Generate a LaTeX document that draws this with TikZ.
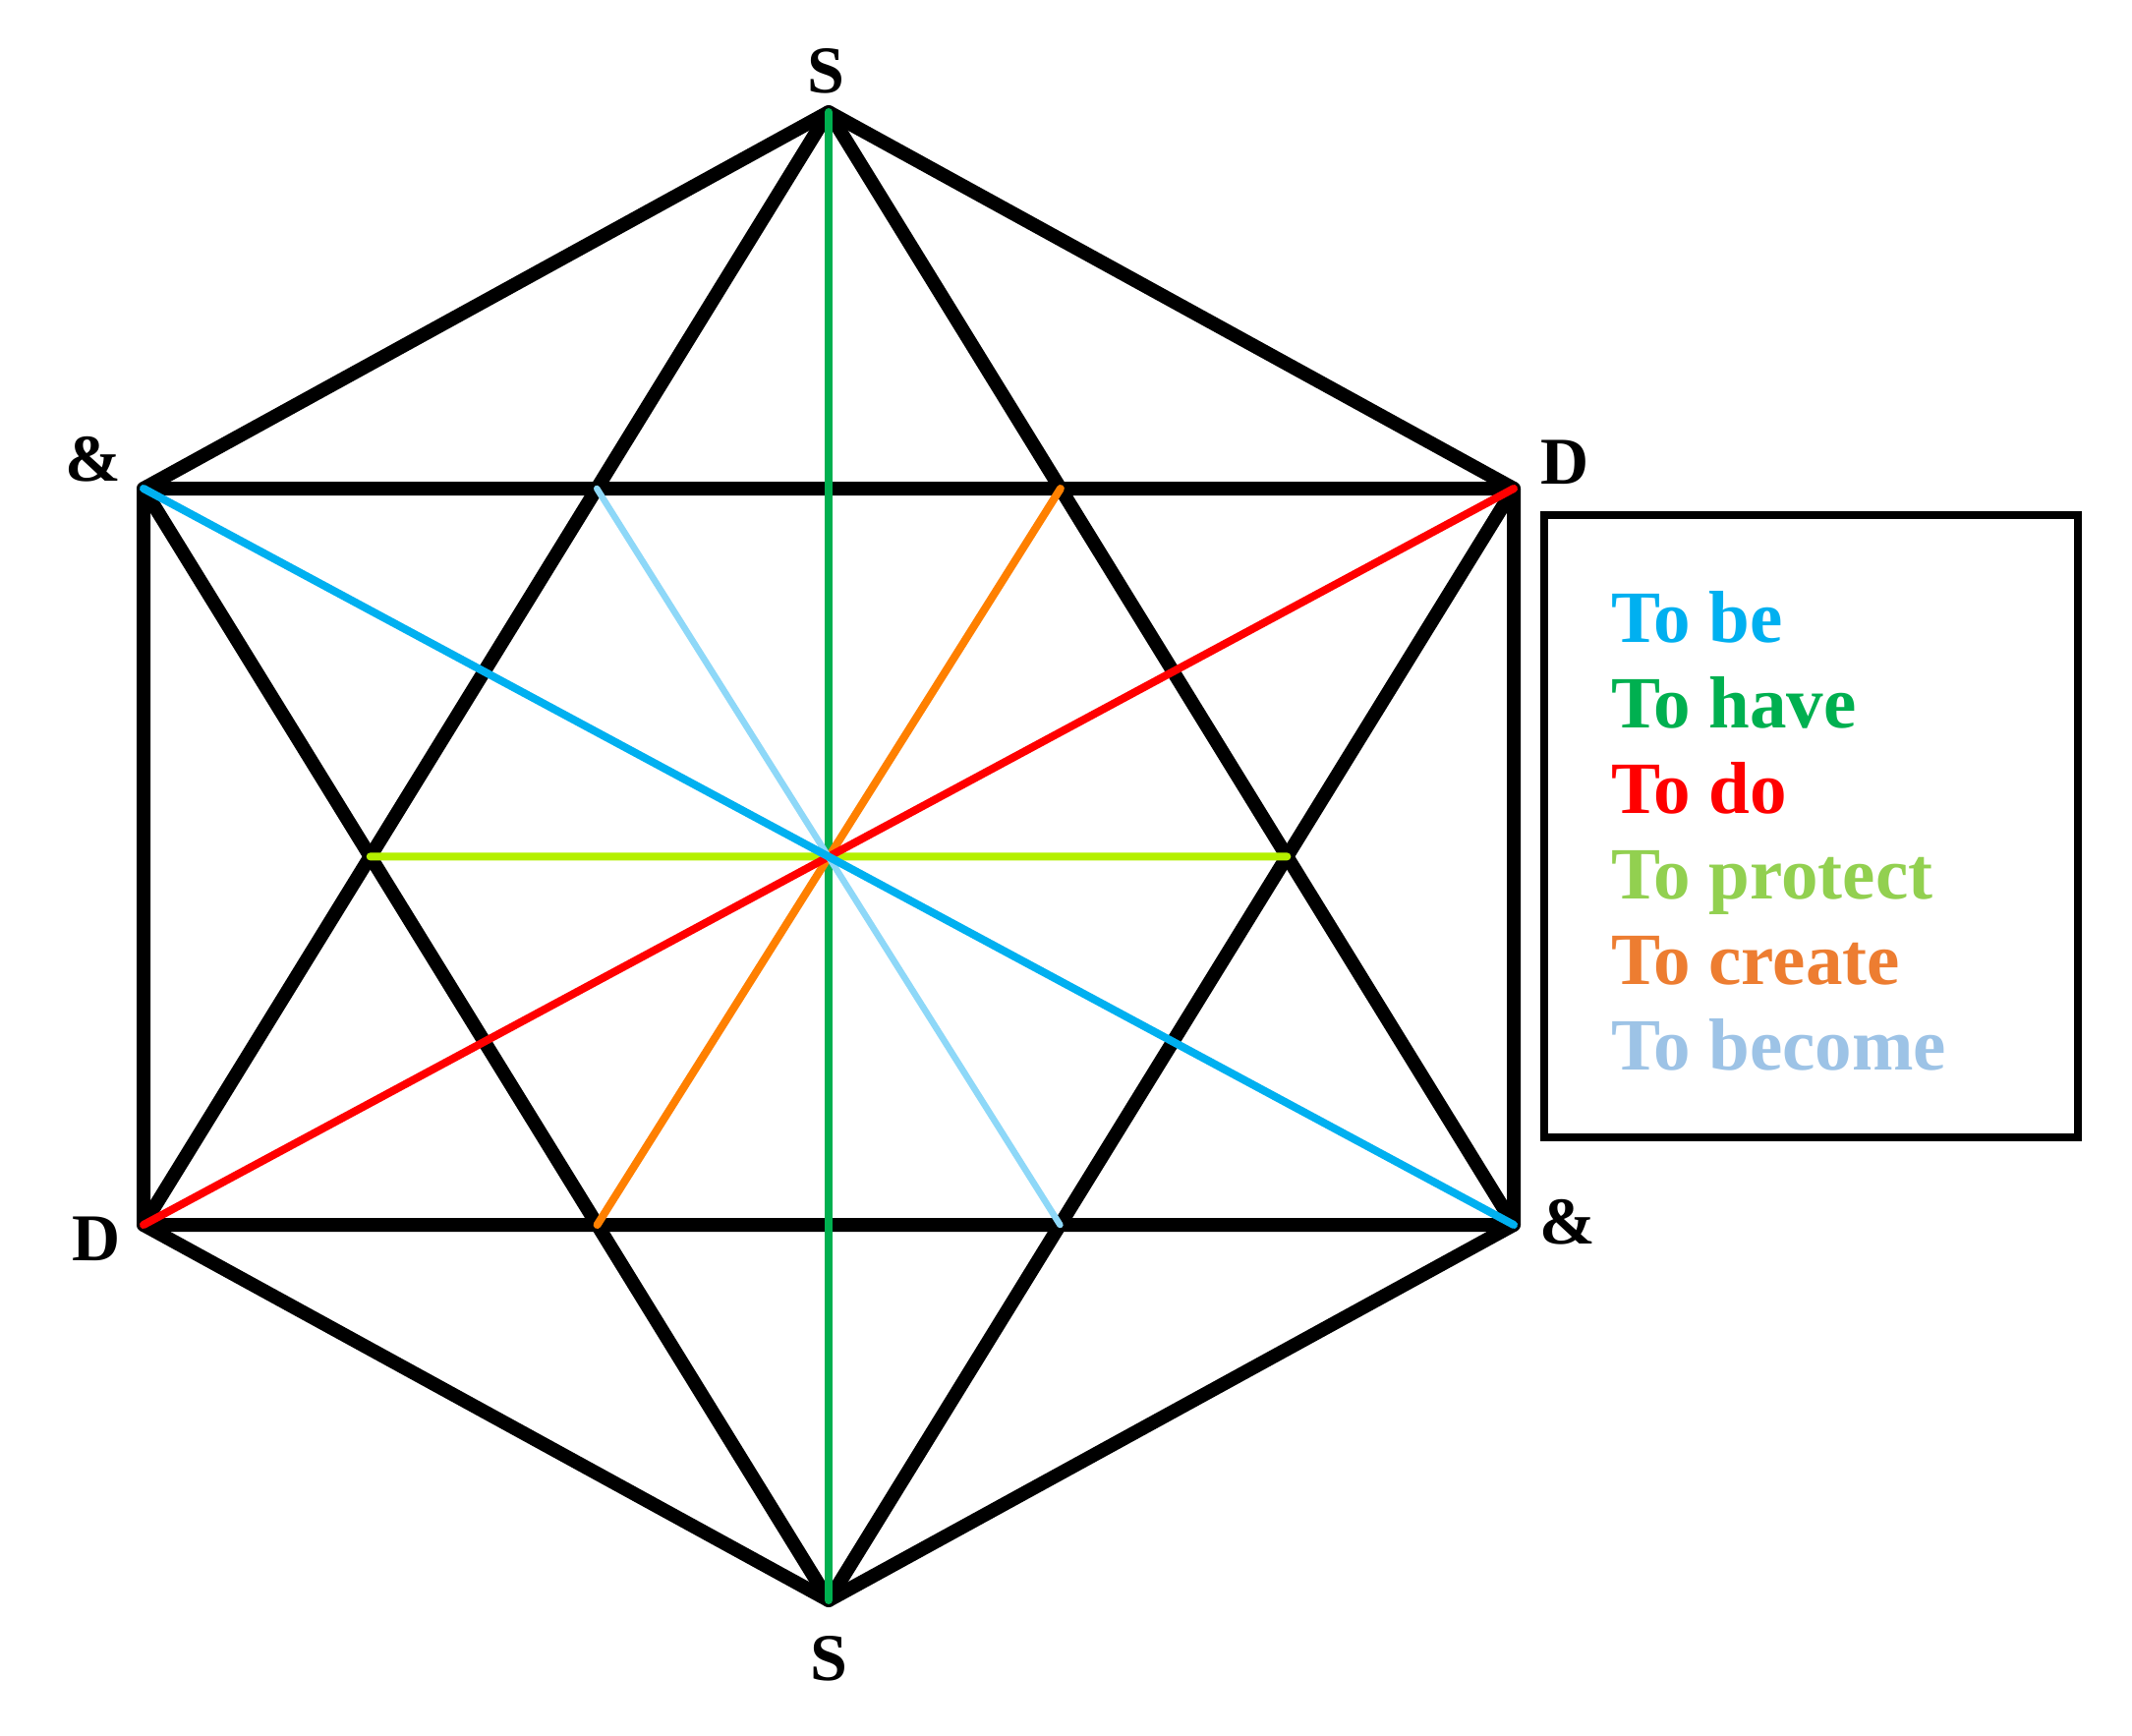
\documentclass[tikz,border=0pt]{standalone}
\usepackage{fontspec}
\setmainfont{Liberation Serif}
\definecolor{cBe}{HTML}{00B0F0}
\definecolor{cHave}{HTML}{00B050}
\definecolor{cDo}{HTML}{FF0000}
\definecolor{cProtLine}{HTML}{B4F000}
\definecolor{cProtText}{HTML}{92D050}
\definecolor{cCreLine}{HTML}{FF8000}
\definecolor{cCreText}{HTML}{ED7D31}
\definecolor{cBecLine}{HTML}{8ED8F8}
\definecolor{cBecText}{HTML}{9DC3E6}
\tikzset{
  blackline/.style={draw=black,line width=14pt,line join=round,line cap=round},
  colline/.style={line width=8pt,line cap=round},
  vlabel/.style={inner sep=0pt,font=\fontsize{68}{80}\selectfont\bfseries},
  legtext/.style={inner sep=0pt,anchor=base west,font=\fontsize{75}{87}\selectfont\bfseries},
  legbox/.style={draw=black,line width=8pt}
}
\begin{document}
\begin{tikzpicture}[x=1pt,y=-1pt]
\useasboundingbox[fill=white] (0,0) rectangle (2169,1766);
% vertices
\coordinate (T)  at (843,114);
\coordinate (B)  at (843,1628);
\coordinate (UL) at (146,497);
\coordinate (UR) at (1540,497);
\coordinate (LL) at (146,1246);
\coordinate (LR) at (1540,1246);
\coordinate (C)  at (843,871);
% star points and crossings
\coordinate (SL) at (intersection of T--LL and B--UL);
\coordinate (SR) at (intersection of T--LR and B--UR);
\coordinate (TopL) at (intersection of T--LL and UL--UR);
\coordinate (TopR) at (intersection of T--LR and UL--UR);
\coordinate (BotL) at (intersection of B--UL and LL--LR);
\coordinate (BotR) at (intersection of B--UR and LL--LR);
% hexagon
\draw[blackline] (T) -- (UR) -- (LR) -- (B) -- (LL) -- (UL) -- cycle;
% star of David
\draw[blackline] (T) -- (LR) -- (LL) -- cycle;
\draw[blackline] (B) -- (UL) -- (UR) -- cycle;
% coloured lines
\draw[colline,draw=cHave] (T) -- (B);
\draw[colline,draw=cProtLine] (SL) -- (SR);
\draw[colline,draw=cCreLine] (TopR) -- (BotL);
\draw[colline,draw=cDo] (LL) -- (UR);
\draw[colline,draw=cBecLine,line width=6.5pt] (TopL) -- (BotR);
\draw[colline,draw=cBe] (UL) -- (LR);
% vertex labels
\node[vlabel] (lT)  at (840,72)   {S};
\node[vlabel] (lB)  at (843,1687) {S};
\node[vlabel] (lUL) at (95,467)   {\&};
\node[vlabel] (lUR) at (1592,470) {D};
\node[vlabel] (lLL) at (98,1260)  {D};
\node[vlabel] (lLR) at (1595,1243){\&};
% legend
\draw[legbox] (1571,524) rectangle (2114,1157);
\node[legtext,text=cBe]      (k1) at (1639,653)  {To be};
\node[legtext,text=cHave]    (k2) at (1639,740)  {To have};
\node[legtext,text=cDo]      (k3) at (1639,827)  {To do};
\node[legtext,text=cProtText](k4) at (1639,914)  {To protect};
\node[legtext,text=cCreText] (k5) at (1639,1001) {To create};
\node[legtext,text=cBecText] (k6) at (1639,1088) {To become};
\end{tikzpicture}
\end{document}
